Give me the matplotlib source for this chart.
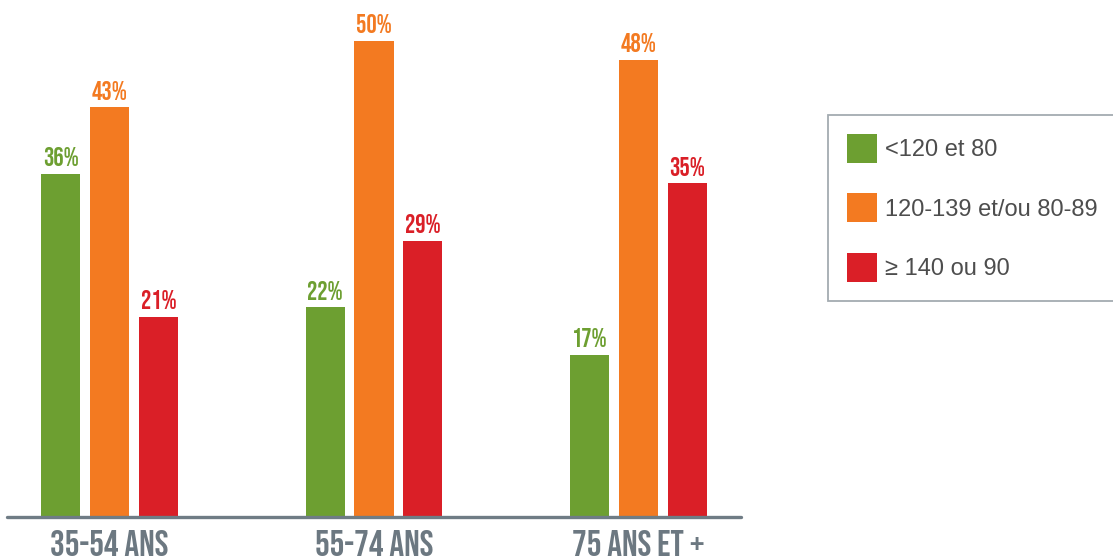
import matplotlib
matplotlib.use("Agg")
import matplotlib.pyplot as plt
from matplotlib import font_manager
from matplotlib.patches import Patch
import numpy as np

categories = ["35-54 ANS", "55-74 ANS", "75 ANS ET +"]
series_names = ["<120 et 80", "120-139 et/ou 80-89", "\u2265 140 ou 90"]
green_vals = [36, 22, 17]
orange_vals = [43, 50, 48]
red_vals = [21, 29, 35]
colors = ["#6d9f31", "#f37a21", "#da1f27"]

names = {f.name for f in font_manager.fontManager.ttflist}
cond = "DejaVu Sans"
for cand in ["Bebas Neue", "Oswald", "Roboto Condensed", "Liberation Sans Narrow",
             "Open Sans Condensed", "Noto Sans Condensed", "DejaVu Sans Condensed",
             "Arial Narrow"]:
    if cand in names:
        cond = cand
        break
regular = "Liberation Sans" if "Liberation Sans" in names else "DejaVu Sans"

W, H = 1113, 559
fig = plt.figure(figsize=(W / 100, H / 100), dpi=100)
ax_left, ax_right = 7, 741
base_y = 517
ymax = 54
px_per = 9.53
ax = fig.add_axes([ax_left / W, (H - base_y) / H, (ax_right - ax_left) / W, ymax * px_per / H])

x = np.arange(len(categories))
width = 0.1475
offset = 0.185
all_vals = [green_vals, orange_vals, red_vals]
for i, (vals, c) in enumerate(zip(all_vals, colors)):
    pos = x + (i - 1) * offset
    ax.bar(pos, vals, width=width, color=c, label=series_names[i], zorder=2)
    for px_, v in zip(pos, vals):
        ax.annotate(f"{v}%", (px_, v), xytext=(0, 5.5), textcoords="offset points",
                    ha="center", va="baseline", color=c, fontsize=18.5,
                    fontweight="bold", family=cond)

ax.set_xlim(-0.3875, 2.3875)
ax.set_ylim(0, ymax)
for s in ["top", "right", "left"]:
    ax.spines[s].set_visible(False)
ax.spines["bottom"].set_color("#6f7c85")
ax.spines["bottom"].set_linewidth(2.4)
ax.spines["bottom"].set_capstyle("round")
ax.set_yticks([])
ax.set_xticks(x)
ax.set_xticklabels(categories, family=cond, fontweight="bold", fontsize=26.5, color="#6c7881")
ax.tick_params(axis="x", length=0, pad=9)

handles = [Patch(facecolor=c, edgecolor="none") for c in colors]
fs = 17
leg = fig.legend(handles, series_names, loc="upper left",
                 bbox_to_anchor=(828 / W, 1 - 115 / H),
                 prop={"family": regular, "size": fs},
                 frameon=True, fancybox=False, handlelength=1.27, handleheight=1.5,
                 handletextpad=0.34, labelspacing=1.3, borderpad=0.8, borderaxespad=0)
leg.get_frame().set_edgecolor("#8d979e")
leg.get_frame().set_linewidth(1.3)
for t in leg.get_texts():
    t.set_color("#4d4d4d")

fig.savefig("out.png", dpi=100)
